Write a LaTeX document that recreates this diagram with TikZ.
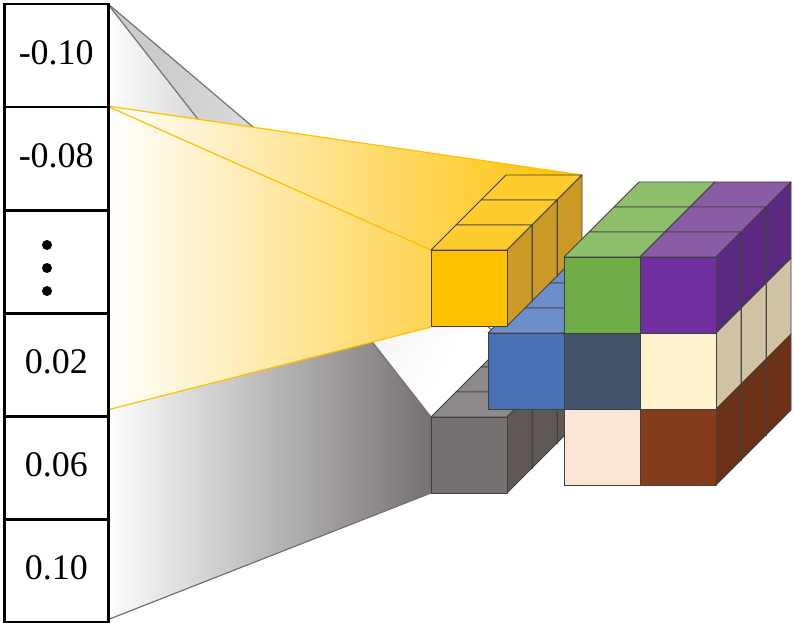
\documentclass[tikz,border=0pt]{standalone}
\usepackage{fontspec}
\setmainfont{Liberation Serif}
\begin{document}
\begin{tikzpicture}[x=1pt,y=-1pt,
  cell/.style={draw=black,line width=2.5pt,minimum width=104pt,minimum height=103pt,inner sep=0pt,font=\fontsize{36}{38}\selectfont,anchor=north west},
  face/.style={draw=black!75,line width=0.8pt,line join=round}]
\useasboundingbox (0,0) rectangle (793,623);
\definecolor{yel}{HTML}{FFC000}\definecolor{yelT}{HTML}{FFCC2E}\definecolor{yelS}{HTML}{CC9A26}
\definecolor{gry}{HTML}{767171}\definecolor{gryT}{HTML}{8F8A8A}\definecolor{gryS}{HTML}{5F5855}
\definecolor{blu}{HTML}{4A71B6}\definecolor{bluT}{HTML}{6C8ECA}
\definecolor{grn}{HTML}{70AD47}\definecolor{grnT}{HTML}{8FBF6B}
\definecolor{pur}{HTML}{7030A0}\definecolor{purT}{HTML}{8B5CA6}\definecolor{purS}{HTML}{5B2A80}
\definecolor{slt}{HTML}{44546A}
\definecolor{crm}{HTML}{FFF2CC}\definecolor{crmS}{HTML}{D1C4A4}
\definecolor{pch}{HTML}{FBE5D6}
\definecolor{brn}{HTML}{843C1C}\definecolor{brnS}{HTML}{6B3217}
\newcommand{\ucube}[5]{%
  \filldraw[face,fill=#4] (#1,#2) -- ++(25,-25) -- ++(76,0) -- ++(-25,25) -- cycle;
  \filldraw[face,fill=#5] (#1+76,#2) -- ++(25,-25) -- ++(0,76) -- ++(-25,25) -- cycle;
  \filldraw[face,fill=#3] (#1,#2) rectangle ++(76,76);}
% gray funnel
\coordinate (gA) at (107,3); \coordinate (gB) at (107,620);
\coordinate (gF) at (431,417); \coordinate (gG) at (431,493); \coordinate (gK) at (506,342);
\shade[left color=white,right color=gry] (gA) -- (gF) -- (gG) -- (gB) -- cycle;
\shade[left color=gray!40,right color=white,shading angle=60] (gA) -- (gK) -- (gF) -- cycle;
\draw[gry,line width=1.2pt] (gA) -- (gK) (gA) -- (gF) (gB) -- (gG);
% yellow funnel
\coordinate (yA) at (107,106); \coordinate (yB) at (107,410);
\coordinate (yF) at (431,250); \coordinate (yG) at (431,327); \coordinate (yK) at (582,175);
\shade[left color=white,right color=yel] (yA) -- (yK) -- (yF) -- (yG) -- (yB) -- cycle;
\draw[yel,line width=1.2pt] (yA) -- (yK) (yA) -- (yF) (yB) -- (yG);
% column nodes
\foreach \i/\t in {0/-0.10,1/-0.08,2/{},3/0.02,4/0.06,5/0.10}
  \node[cell] (c\i) at (3,3+103*\i) {\raisebox{6pt}{\t}};
\foreach \k in {0,1,2} \fill (47,245+23*\k) circle (5pt);
% gray column
\foreach \k in {2,1,0} {\ucube{431+25*\k}{417-25*\k}{gry}{gryT}{gryS}}
% blue column
\foreach \k in {2,1,0} {\ucube{488+25*\k}{333-25*\k}{blu}{bluT}{blu}}
% yellow column
\foreach \k in {2,1,0} {\ucube{431+25*\k}{250-25*\k}{yel}{yelT}{yelS}}
% big cube
\foreach \k in {2,1,0} {
  \ucube{564+25*\k}{409-25*\k}{pch}{pch}{pch}
  \ucube{640+25*\k}{409-25*\k}{brn}{brn}{brnS}
  \ucube{564+25*\k}{333-25*\k}{slt}{slt}{slt}
  \ucube{640+25*\k}{333-25*\k}{crm}{crm}{crmS}
  \ucube{564+25*\k}{257-25*\k}{grn}{grnT}{grn}
  \ucube{640+25*\k}{257-25*\k}{pur}{purT}{purS}
}
\end{tikzpicture}
\end{document}
